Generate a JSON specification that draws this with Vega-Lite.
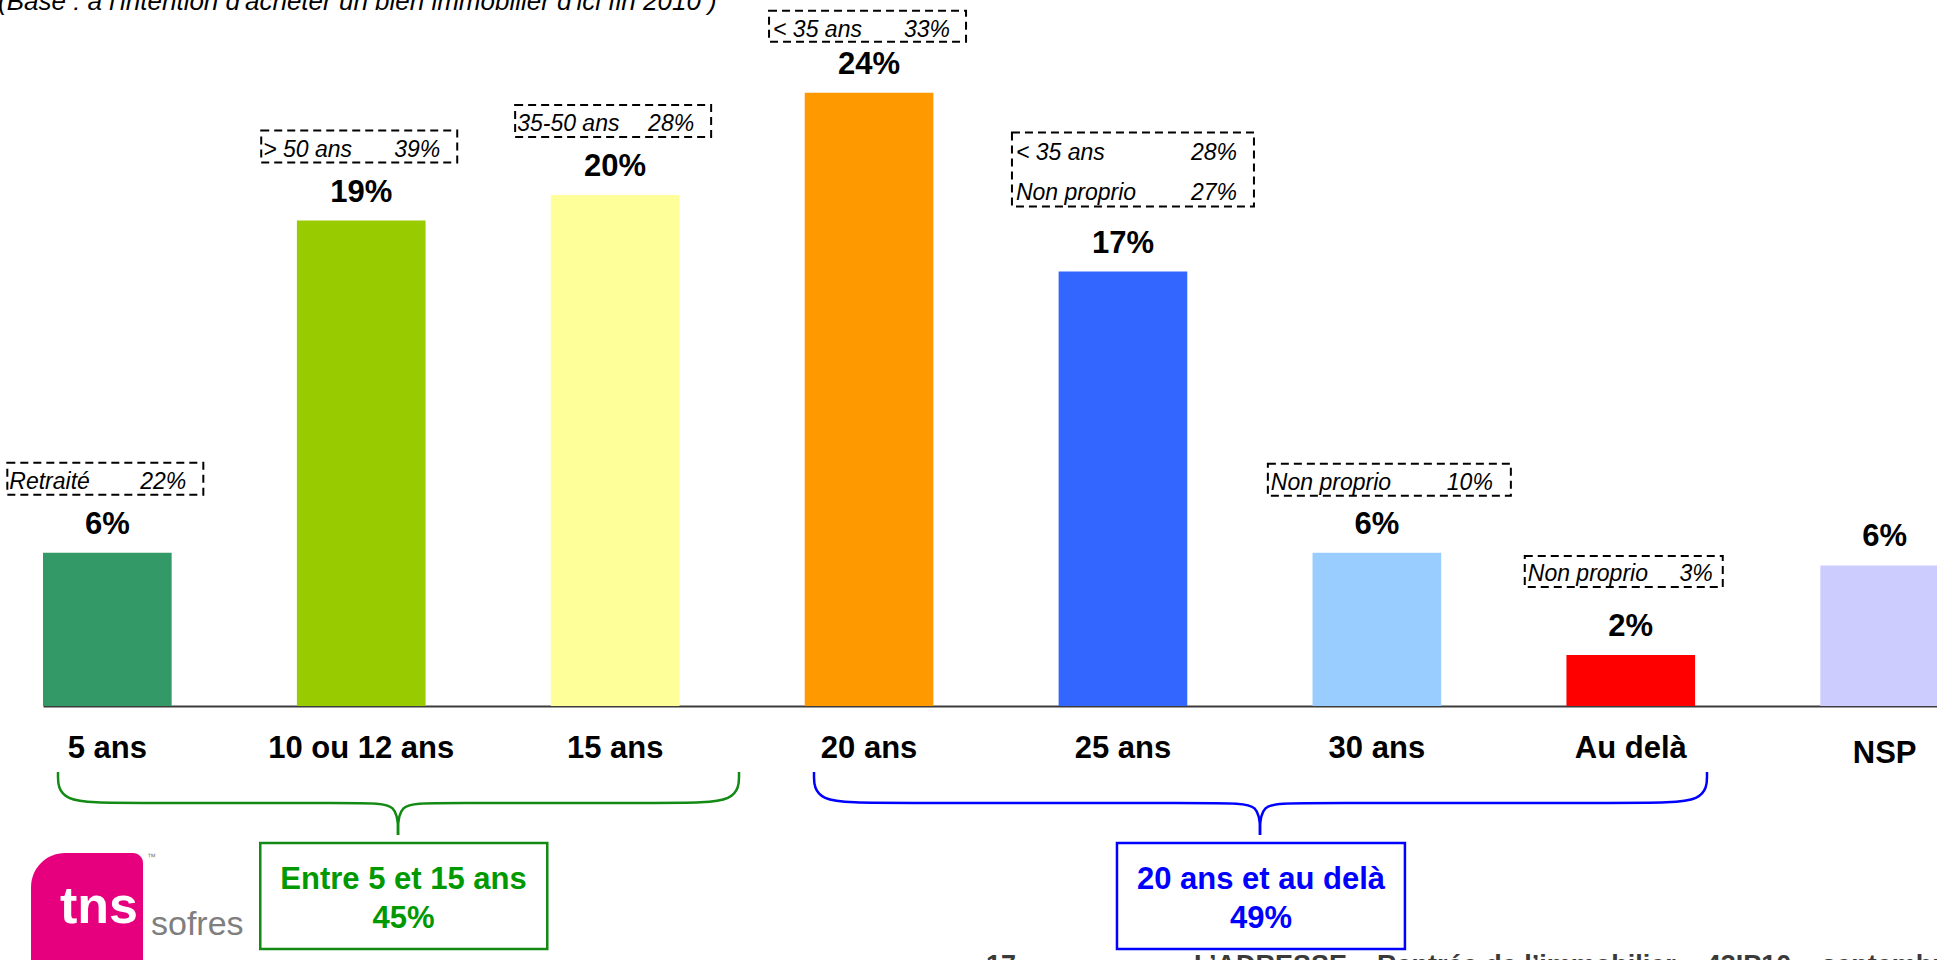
{
"$schema":"https://vega.github.io/schema/vega-lite/v6.json",
"width":1894,"height":706,
"autosize":{"type":"none"},
"padding":{"left":43,"top":0,"right":0,"bottom":254},
"background":"white",
"config":{"view":{"stroke":null},"font":"Liberation Sans"},
"datasets":{
"bars":[
{"cat":"5 ans","pct":6,"label":"6%"},
{"cat":"10 ou 12 ans","pct":19,"label":"19%"},
{"cat":"15 ans","pct":20,"label":"20%"},
{"cat":"20 ans","pct":24,"label":"24%"},
{"cat":"25 ans","pct":17,"label":"17%"},
{"cat":"30 ans","pct":6,"label":"6%"},
{"cat":"Au delà","pct":2,"label":"2%"},
{"cat":"NSP","pct":5.5,"label":"6%"}
],
"notes":[
{"cat":"5 ans","pct":6,"line":1,"who":"Retraité","share":"22%"},
{"cat":"10 ou 12 ans","pct":19,"line":1,"who":"> 50 ans","share":"39%"},
{"cat":"15 ans","pct":20,"line":1,"who":"35-50 ans","share":"28%"},
{"cat":"20 ans","pct":24,"line":1,"who":"< 35 ans","share":"33%"},
{"cat":"25 ans","pct":17,"line":1,"who":"< 35 ans","share":"28%"},
{"cat":"25 ans","pct":17,"line":2,"who":"Non proprio","share":"27%"},
{"cat":"30 ans","pct":6,"line":1,"who":"Non proprio","share":"10%"},
{"cat":"Au delà","pct":2,"line":1,"who":"Non proprio","share":"3%"}
],
"braces":[
{"grp":"g","part":"gL","ord":1,"xi":-0.1944,"yv":-2.583},
{"grp":"g","part":"gL","ord":2,"xi":-0.1944,"yv":-3.796},
{"grp":"g","part":"gL","ord":3,"xi":0.0695,"yv":-3.796},
{"grp":"g","part":"gL","ord":4,"xi":1.0148,"yv":-3.796},
{"grp":"g","part":"gL","ord":5,"xi":1.1448,"yv":-3.796},
{"grp":"g","part":"gL","ord":6,"xi":1.1448,"yv":-5.049},
{"grp":"g","part":"gR","ord":1,"xi":2.4878,"yv":-2.583},
{"grp":"g","part":"gR","ord":2,"xi":2.4878,"yv":-3.796},
{"grp":"g","part":"gR","ord":3,"xi":2.2239,"yv":-3.796},
{"grp":"g","part":"gR","ord":4,"xi":1.2747,"yv":-3.796},
{"grp":"g","part":"gR","ord":5,"xi":1.1448,"yv":-3.796},
{"grp":"g","part":"gR","ord":6,"xi":1.1448,"yv":-5.049},
{"grp":"b","part":"bL","ord":1,"xi":2.7832,"yv":-2.583},
{"grp":"b","part":"bL","ord":2,"xi":2.7832,"yv":-3.796},
{"grp":"b","part":"bL","ord":3,"xi":3.0471,"yv":-3.796},
{"grp":"b","part":"bL","ord":4,"xi":4.4098,"yv":-3.796},
{"grp":"b","part":"bL","ord":5,"xi":4.5398,"yv":-3.796},
{"grp":"b","part":"bL","ord":6,"xi":4.5398,"yv":-5.049},
{"grp":"b","part":"bR","ord":1,"xi":6.3003,"yv":-2.583},
{"grp":"b","part":"bR","ord":2,"xi":6.3003,"yv":-3.796},
{"grp":"b","part":"bR","ord":3,"xi":6.0364,"yv":-3.796},
{"grp":"b","part":"bR","ord":4,"xi":4.6697,"yv":-3.796},
{"grp":"b","part":"bR","ord":5,"xi":4.5398,"yv":-3.796},
{"grp":"b","part":"bR","ord":6,"xi":4.5398,"yv":-5.049}
],
"groups":[
{"grp":"g","title":"Entre 5 et 15 ans","share":"45%","x0":0.6022,"x1":1.7326,"xc":1.1664,"ytop":-5.362,"ybot":-9.51,"yc":-7.573},
{"grp":"b","title":"20 ans et au delà","share":"49%","x0":3.9765,"x1":5.1106,"xc":4.5437,"ytop":-5.362,"ybot":-9.51,"yc":-7.573}
],
"decor":[
{"id":"base","text":"(Base : à l'intention d'acheter un bien immobilier d'ici fin 2010 )"},
{"id":"logo","text":""},
{"id":"tns","text":"tns"},
{"id":"sofres","text":"sofres"},
{"id":"tm","text":"™"},
{"id":"page","text":"17"},
{"id":"footer","text":"L’ADRESSE – Rentrée de l’immobilier – 43IP10 – septembre 2010"}
]
},
"layer":[
{"layer":[
{"data":{"name":"bars"},"mark":{"type":"bar"},
"encoding":{
"x":{"field":"cat","type":"nominal","scale":{"domain":["5 ans","10 ou 12 ans","15 ans","20 ans","25 ans","30 ans","Au delà","NSP"],"range":[0,1906],"paddingInner":0.4933,"paddingOuter":0},
"axis":{"title":null,"ticks":false,"tickSize":0,"labelPadding":{"condition":{"test":"datum.value === 'NSP'","value":32},"value":27},"labelFontSize":31,"labelFontWeight":"bold","labelColor":"#000","labelFont":"Liberation Sans","labelAngle":0,"labelLimit":400,"labelBaseline":"top","labelOverlap":false,"domainColor":"#3c3c3c","domainWidth":2,"grid":false}},
"y":{"field":"pct","type":"quantitative","scale":{"domain":[0,27.63],"nice":false,"zero":false},"axis":null},
"color":{"field":"cat","type":"nominal","scale":{"domain":["5 ans","10 ou 12 ans","15 ans","20 ans","25 ans","30 ans","Au delà","NSP"],"range":["#339966","#99cc00","#ffff99","#ff9900","#3366ff","#99ccff","#ff0000","#ccccff"]},"legend":null}}},
{"data":{"name":"bars"},"mark":{"type":"text","fontSize":31,"fontWeight":"bold","baseline":"middle","dy":-28,"color":"#000"},
"encoding":{"x":{"field":"cat","type":"nominal"},"y":{"field":"pct","type":"quantitative"},"text":{"field":"label"}}},

{"data":{"name":"notes"},"transform":[{"filter":{"field":"cat","oneOf":["5 ans","10 ou 12 ans","15 ans"]}}],
"mark":{"type":"bar","width":196,"xOffset":-2,"yOffset":-90,"y2Offset":-58,"fill":"white","fillOpacity":0,"stroke":"#000","strokeWidth":2,"strokeDash":[8,5]},
"encoding":{"x":{"field":"cat","type":"nominal"},"y":{"field":"pct","type":"quantitative"},"y2":{"field":"pct"}}},
{"data":{"name":"notes"},"transform":[{"filter":{"field":"cat","oneOf":["5 ans","10 ou 12 ans","15 ans"]}}],
"mark":{"type":"text","align":"left","baseline":"middle","dx":-98,"dy":-71,"fontSize":23,"fontStyle":"italic","color":"#000"},
"encoding":{"x":{"field":"cat","type":"nominal"},"y":{"field":"pct","type":"quantitative"},"text":{"field":"who"}}},
{"data":{"name":"notes"},"transform":[{"filter":{"field":"cat","oneOf":["5 ans","10 ou 12 ans","15 ans"]}}],
"mark":{"type":"text","align":"right","baseline":"middle","dx":79,"dy":-71,"fontSize":23,"fontStyle":"italic","color":"#000"},
"encoding":{"x":{"field":"cat","type":"nominal"},"y":{"field":"pct","type":"quantitative"},"text":{"field":"share"}}},

{"data":{"name":"notes"},"transform":[{"filter":{"field":"cat","equal":"20 ans"}}],
"mark":{"type":"bar","width":197,"xOffset":-1.5,"yOffset":-82,"y2Offset":-51,"fill":"white","fillOpacity":0,"stroke":"#000","strokeWidth":2,"strokeDash":[8,5]},
"encoding":{"x":{"field":"cat","type":"nominal"},"y":{"field":"pct","type":"quantitative"},"y2":{"field":"pct"}}},
{"data":{"name":"notes"},"transform":[{"filter":{"field":"cat","equal":"20 ans"}}],
"mark":{"type":"text","align":"left","baseline":"middle","dx":-96,"dy":-63,"fontSize":23,"fontStyle":"italic","color":"#000"},
"encoding":{"x":{"field":"cat","type":"nominal"},"y":{"field":"pct","type":"quantitative"},"text":{"field":"who"}}},
{"data":{"name":"notes"},"transform":[{"filter":{"field":"cat","equal":"20 ans"}}],
"mark":{"type":"text","align":"right","baseline":"middle","dx":81,"dy":-63,"fontSize":23,"fontStyle":"italic","color":"#000"},
"encoding":{"x":{"field":"cat","type":"nominal"},"y":{"field":"pct","type":"quantitative"},"text":{"field":"share"}}},

{"data":{"name":"notes"},"transform":[{"filter":"datum.cat === '25 ans' && datum.line === 1"}],
"mark":{"type":"bar","width":242,"xOffset":10,"yOffset":-139,"y2Offset":-65,"fill":"white","fillOpacity":0,"stroke":"#000","strokeWidth":2,"strokeDash":[8,5]},
"encoding":{"x":{"field":"cat","type":"nominal"},"y":{"field":"pct","type":"quantitative"},"y2":{"field":"pct"}}},
{"data":{"name":"notes"},"transform":[{"filter":"datum.cat === '25 ans' && datum.line === 1"}],
"mark":{"type":"text","align":"left","baseline":"middle","dx":-107,"dy":-119,"fontSize":23,"fontStyle":"italic","color":"#000"},
"encoding":{"x":{"field":"cat","type":"nominal"},"y":{"field":"pct","type":"quantitative"},"text":{"field":"who"}}},
{"data":{"name":"notes"},"transform":[{"filter":"datum.cat === '25 ans' && datum.line === 1"}],
"mark":{"type":"text","align":"right","baseline":"middle","dx":114,"dy":-119,"fontSize":23,"fontStyle":"italic","color":"#000"},
"encoding":{"x":{"field":"cat","type":"nominal"},"y":{"field":"pct","type":"quantitative"},"text":{"field":"share"}}},
{"data":{"name":"notes"},"transform":[{"filter":"datum.cat === '25 ans' && datum.line === 2"}],
"mark":{"type":"text","align":"left","baseline":"middle","dx":-107,"dy":-79,"fontSize":23,"fontStyle":"italic","color":"#000"},
"encoding":{"x":{"field":"cat","type":"nominal"},"y":{"field":"pct","type":"quantitative"},"text":{"field":"who"}}},
{"data":{"name":"notes"},"transform":[{"filter":"datum.cat === '25 ans' && datum.line === 2"}],
"mark":{"type":"text","align":"right","baseline":"middle","dx":114,"dy":-79,"fontSize":23,"fontStyle":"italic","color":"#000"},
"encoding":{"x":{"field":"cat","type":"nominal"},"y":{"field":"pct","type":"quantitative"},"text":{"field":"share"}}},

{"data":{"name":"notes"},"transform":[{"filter":{"field":"cat","equal":"30 ans"}}],
"mark":{"type":"bar","width":243,"xOffset":12.5,"yOffset":-89,"y2Offset":-57,"fill":"white","fillOpacity":0,"stroke":"#000","strokeWidth":2,"strokeDash":[8,5]},
"encoding":{"x":{"field":"cat","type":"nominal"},"y":{"field":"pct","type":"quantitative"},"y2":{"field":"pct"}}},
{"data":{"name":"notes"},"transform":[{"filter":{"field":"cat","equal":"30 ans"}}],
"mark":{"type":"text","align":"left","baseline":"middle","dx":-106,"dy":-70,"fontSize":23,"fontStyle":"italic","color":"#000"},
"encoding":{"x":{"field":"cat","type":"nominal"},"y":{"field":"pct","type":"quantitative"},"text":{"field":"who"}}},
{"data":{"name":"notes"},"transform":[{"filter":{"field":"cat","equal":"30 ans"}}],
"mark":{"type":"text","align":"right","baseline":"middle","dx":116,"dy":-70,"fontSize":23,"fontStyle":"italic","color":"#000"},
"encoding":{"x":{"field":"cat","type":"nominal"},"y":{"field":"pct","type":"quantitative"},"text":{"field":"share"}}},

{"data":{"name":"notes"},"transform":[{"filter":{"field":"cat","equal":"Au delà"}}],
"mark":{"type":"bar","width":198,"xOffset":-7,"yOffset":-99,"y2Offset":-68,"fill":"white","fillOpacity":0,"stroke":"#000","strokeWidth":2,"strokeDash":[8,5]},
"encoding":{"x":{"field":"cat","type":"nominal"},"y":{"field":"pct","type":"quantitative"},"y2":{"field":"pct"}}},
{"data":{"name":"notes"},"transform":[{"filter":{"field":"cat","equal":"Au delà"}}],
"mark":{"type":"text","align":"left","baseline":"middle","dx":-103,"dy":-81,"fontSize":23,"fontStyle":"italic","color":"#000"},
"encoding":{"x":{"field":"cat","type":"nominal"},"y":{"field":"pct","type":"quantitative"},"text":{"field":"who"}}},
{"data":{"name":"notes"},"transform":[{"filter":{"field":"cat","equal":"Au delà"}}],
"mark":{"type":"text","align":"right","baseline":"middle","dx":82,"dy":-81,"fontSize":23,"fontStyle":"italic","color":"#000"},
"encoding":{"x":{"field":"cat","type":"nominal"},"y":{"field":"pct","type":"quantitative"},"text":{"field":"share"}}}
]},
{"layer":[
{"data":{"name":"braces"},"mark":{"type":"line","interpolate":"basis","strokeWidth":2.5},
"encoding":{
"x":{"field":"xi","type":"quantitative","scale":{"domain":[-0.2535,7.2535],"range":[0,1906],"nice":false,"zero":false},"axis":null},
"y":{"field":"yv","type":"quantitative","scale":{"domain":[0,27.63],"nice":false,"zero":false},"axis":null},
"detail":{"field":"part","type":"nominal"},
"order":{"field":"ord","type":"quantitative"},
"stroke":{"field":"grp","type":"nominal","scale":{"domain":["g","b"],"range":["#138a13","#0000ff"]},"legend":null}}},
{"data":{"name":"groups"},"mark":{"type":"rect","fill":"white","fillOpacity":0,"strokeWidth":2.5},
"encoding":{
"x":{"field":"x0","type":"quantitative"},"x2":{"field":"x1"},
"y":{"field":"ytop","type":"quantitative"},"y2":{"field":"ybot"},
"stroke":{"field":"grp","type":"nominal","legend":null}}},
{"data":{"name":"groups"},"mark":{"type":"text","fontSize":31,"fontWeight":"bold","baseline":"middle","dy":-19.75},
"encoding":{
"x":{"field":"xc","type":"quantitative"},"y":{"field":"yc","type":"quantitative"},
"text":{"field":"title"},
"fill":{"field":"grp","type":"nominal","scale":{"domain":["g","b"],"range":["#009900","#0000ff"]},"legend":null}}},
{"data":{"name":"groups"},"mark":{"type":"text","fontSize":31,"fontWeight":"bold","baseline":"middle","dy":19.75},
"encoding":{
"x":{"field":"xc","type":"quantitative"},"y":{"field":"yc","type":"quantitative"},
"text":{"field":"share"},
"fill":{"field":"grp","type":"nominal","legend":null}}},
{"data":{"name":"decor"},"transform":[{"filter":"datum.id === 'logo'"}],
"mark":{"type":"rect","fill":"#e6007e","cornerRadius":10,"cornerRadiusTopLeft":34},
"encoding":{"x":{"datum":-0.3007,"type":"quantitative"},"x2":{"datum":0.1404},"y":{"datum":-5.753,"type":"quantitative"},"y2":{"datum":-11.115}}},
{"data":{"name":"decor"},"transform":[{"filter":"datum.id === 'tns'"}],
"mark":{"type":"text","align":"left","baseline":"alphabetic","fontSize":52,"fontWeight":"bold","color":"#ffffff"},
"encoding":{"x":{"datum":-0.1866,"type":"quantitative"},"y":{"datum":-8.493,"type":"quantitative"},"text":{"field":"text"}}},
{"data":{"name":"decor"},"transform":[{"filter":"datum.id === 'sofres'"}],
"mark":{"type":"text","align":"left","baseline":"alphabetic","fontSize":34,"color":"#7f7f7f"},
"encoding":{"x":{"datum":0.1719,"type":"quantitative"},"y":{"datum":-8.963,"type":"quantitative"},"text":{"field":"text"}}},
{"data":{"name":"decor"},"transform":[{"filter":"datum.id === 'tm'"}],
"mark":{"type":"text","align":"left","baseline":"alphabetic","fontSize":9,"color":"#7f7f7f"},
"encoding":{"x":{"datum":0.1562,"type":"quantitative"},"y":{"datum":-6.027,"type":"quantitative"},"text":{"field":"text"}}},
{"data":{"name":"decor"},"transform":[{"filter":"datum.id === 'base'"}],
"mark":{"type":"text","align":"left","baseline":"alphabetic","fontSize":26,"fontStyle":"italic","color":"#000"},
"encoding":{"x":{"datum":-0.4307,"type":"quantitative"},"y":{"datum":27.24,"type":"quantitative"},"text":{"field":"text"}}},
{"data":{"name":"decor"},"transform":[{"filter":"datum.id === 'page'"}],
"mark":{"type":"text","align":"left","baseline":"alphabetic","fontSize":27,"fontWeight":"bold","color":"#3a3a3a"},
"encoding":{"x":{"datum":3.461,"type":"quantitative"},"y":{"datum":-10.5,"type":"quantitative"},"text":{"field":"text"}}},
{"data":{"name":"decor"},"transform":[{"filter":"datum.id === 'footer'"}],
"mark":{"type":"text","align":"left","baseline":"alphabetic","fontSize":27,"fontWeight":"bold","color":"#3a3a3a"},
"encoding":{"x":{"datum":4.28,"type":"quantitative"},"y":{"datum":-10.5,"type":"quantitative"},"text":{"field":"text"}}}
]}
],
"resolve":{"scale":{"x":"independent","color":"independent","stroke":"independent","fill":"independent"}}
}
